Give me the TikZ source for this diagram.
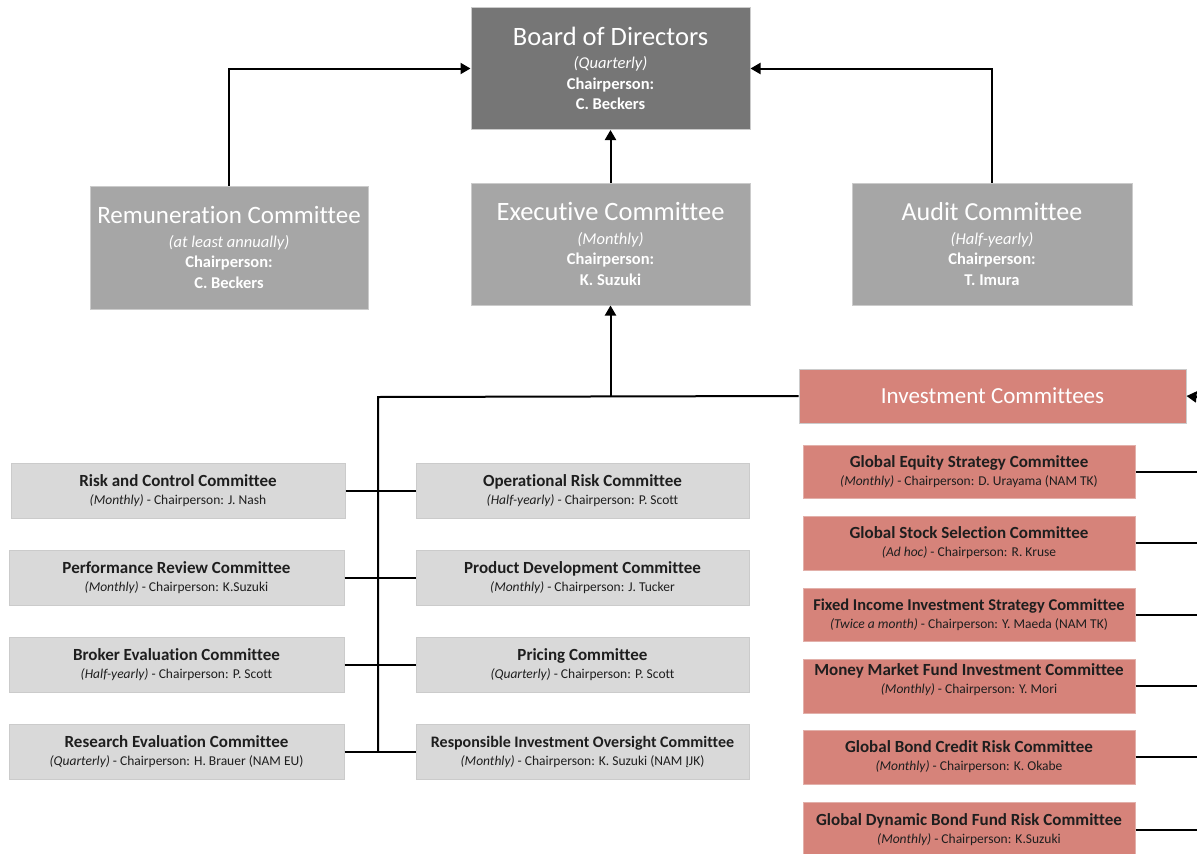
\documentclass[tikz,border=0pt]{standalone}
\usepackage{fontspec}
\setmainfont{Carlito}[Ligatures=NoCommon]
\usetikzlibrary{arrows.meta}
\definecolor{boardfill}{HTML}{767676}
\definecolor{midfill}{HTML}{A6A6A6}
\definecolor{lightfill}{HTML}{D9D9D9}
\definecolor{lightedge}{HTML}{CBCBCB}
\definecolor{redfill}{HTML}{D6837A}
\definecolor{rededge}{HTML}{E2B0AA}
\definecolor{txt}{HTML}{1E1E1E}
\begin{document}
\begin{tikzpicture}[x=1pt,y=-1pt,
  conn/.style={line width=2pt, black},
  arr/.style={conn, -{Triangle[length=10pt,width=11pt]}},
  sz/.style 2 args={minimum width=#1, minimum height=#2},
  topbox/.style={draw=lightedge, line width=1pt, inner sep=0pt, align=center, text=white,
    font=\fontsize{16.5}{20.5}\selectfont},
  boardbox/.style={topbox, fill=boardfill},
  midbox/.style={topbox, fill=midfill},
  greybox/.style={draw=lightedge, line width=1pt, fill=lightfill, inner sep=0pt, align=center,
    text=txt, font=\fontsize{13.5}{18}\selectfont, sz={334pt}{55pt}},
  redbox/.style={draw=rededge, line width=1pt, fill=redfill, inner sep=0pt, align=center,
    text=txt, font=\fontsize{13.5}{18}\selectfont, sz={332pt}{54pt}},
]
\useasboundingbox (0,0) rectangle (1197,854);
\newcommand{\bigttl}[2][26]{{\fontsize{#1}{#1}\selectfont #2}\\[3pt]}
\newcommand{\smttl}[2][17]{{\fontsize{#1}{#1}\selectfont\bfseries #2}\\}

% top level
\node[boardbox, sz={279pt}{122pt}] (board) at (610.5,68.5)
  {\bigttl[26.5]{Board of Directors}\textit{(Quarterly)}\\\textbf{Chairperson:}\\\textbf{C. Beckers}};
\node[midbox, sz={278pt}{123pt}] (rem) at (229,247.5)
  {\bigttl[25]{Remuneration Committee}\textit{(at least annually)}\\\textbf{Chairperson:}\\\textbf{C. Beckers}};
\node[midbox, sz={279pt}{122pt}] (exec) at (610.5,244)
  {\bigttl[26.5]{Executive Committee}\textit{(Monthly)}\\\textbf{Chairperson:}\\\textbf{K. Suzuki}};
\node[midbox, sz={280pt}{122pt}] (audit) at (992,244)
  {\bigttl{Audit Committee}\textit{(Half-yearly)}\\\textbf{Chairperson:}\\\textbf{T. Imura}};

\node[draw=lightedge, line width=1pt, fill=redfill, text=white, inner sep=0pt,
  sz={387pt}{54pt}, font=\fontsize{23}{23}\selectfont] (inv) at (992.5,396) {Investment Committees};

% left column
\node[greybox] (risk) at (178,490.5) {\smttl{Risk and Control Committee}\textit{(Monthly)} - Chairperson: J. Nash};
\node[greybox, sz={335pt}{55pt}] (perf) at (176.5,577.5) {\smttl{Performance Review Committee}\textit{(Monthly)} - Chairperson: K.Suzuki};
\node[greybox, sz={335pt}{55pt}] (broker) at (176.5,664.5) {\smttl{Broker Evaluation Committee}\textit{(Half-yearly)} - Chairperson: P. Scott};
\node[greybox, sz={335pt}{55pt}] (research) at (176.5,751.5) {\smttl{Research Evaluation Committee}\textit{(Quarterly)} - Chairperson: H. Brauer (NAM EU)};

% middle column
\node[greybox, sz={333pt}{55pt}] (oprisk) at (582.5,490.5) {\smttl{Operational Risk Committee}\textit{(Half-yearly)} - Chairperson: P. Scott};
\node[greybox, sz={333pt}{55pt}] (prod) at (582.5,577.5) {\smttl{Product Development Committee}\textit{(Monthly)} - Chairperson: J. Tucker};
\node[greybox, sz={333pt}{55pt}] (pricing) at (582.5,664.5) {\smttl{Pricing Committee}\textit{(Quarterly)} - Chairperson: P. Scott};
\node[greybox, sz={333pt}{55pt}] (rio) at (582.5,751.5) {\smttl[16]{Responsible Investment Oversight Committee}\textit{(Monthly)} - Chairperson: K. Suzuki (NAM ĮJK)};

% red column
\node[redbox, sz={332pt}{53pt}] (ges) at (969,471.5) {\smttl{Global Equity Strategy Committee}\textit{(Monthly)} - Chairperson: D. Urayama (NAM TK)};
\node[redbox] (gss) at (969,543) {\smttl{Global Stock Selection Committee}\textit{(Ad hoc)} - Chairperson: R. Kruse};
\node[redbox, sz={332pt}{53pt}] (fii) at (969,614.5) {\smttl[16.5]{Fixed Income Investment Strategy Committee}\textit{(Twice a month)} - Chairperson: Y. Maeda (NAM TK)};
\node[redbox] (mmf) at (969,686) {};
\node[align=center, text=txt, inner sep=0pt, font=\fontsize{13.5}{18}\selectfont] (mmft) at (969,679.5)
  {\smttl{Money Market Fund Investment Committee}\textit{(Monthly)} - Chairperson: Y. Mori};
\node[redbox] (gbc) at (969,757) {\smttl{Global Bond Credit Risk Committee}\textit{(Monthly)} - Chairperson: K. Okabe};
\node[redbox, sz={332pt}{56pt}] (gdb) at (969,830) {\smttl{Global Dynamic Bond Fund Risk Committee}\textit{(Monthly)} - Chairperson: K.Suzuki};

% connectors, top
\draw[arr] (rem.north) |- (board.west);
\draw[arr] (audit.north) |- (board.east);
\draw[arr] (exec.north) -- (board.south);

% bus
\coordinate (bustop) at (378,397);
\coordinate (junc) at (610.5,397);
\coordinate (busbot) at (378,751.5);
\draw[conn] (inv.west) -- (bustop) -- (busbot);
\draw[arr] (junc) -- (exec.south);
\draw[conn] (risk.east) -- (oprisk.west);
\draw[conn] (perf.east) -- (prod.west);
\draw[conn] (broker.east) -- (pricing.west);
\draw[conn] (research.east) -- (rio.west);

% right side
\coordinate (invin) at (1197,397);
\coordinate (redge) at (1197,0);
\draw[arr] (invin) -- (inv.east);
\foreach \n in {ges,gss,fii,mmf,gbc,gdb}
  \draw[conn] (\n.east) -- (\n.east -| redge);
\end{tikzpicture}
\end{document}
